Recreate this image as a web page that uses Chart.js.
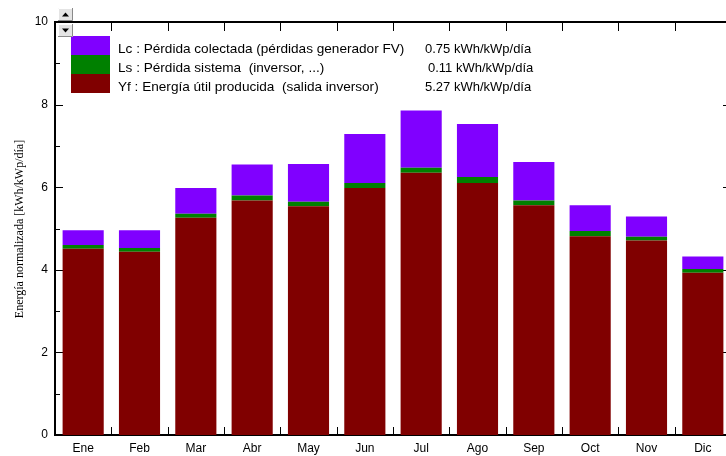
<!DOCTYPE html>
<html>
<head>
<meta charset="utf-8">
<script src="https://cdn.jsdelivr.net/npm/chart.js@4"></script>
<style>
  html, body { margin: 0; padding: 0; overflow: hidden; background: #fff; }
  #wrap { width: 740px; height: 456px; }
</style>
</head>
<body>
<div id="wrap"><canvas id="energyChart" width="740" height="456"></canvas></div>
<script>
const months = ['Ene', 'Feb', 'Mar', 'Abr', 'May', 'Jun', 'Jul', 'Ago', 'Sep', 'Oct', 'Nov', 'Dic']

// kWh/kWp/día por mes
const yfValues = [4.51, 4.44, 5.26, 5.68, 5.54, 5.98, 6.35, 6.10, 5.56, 4.81, 4.71, 3.93]
const lsValues = [0.09, 0.09, 0.10, 0.12, 0.11, 0.12, 0.12, 0.15, 0.12, 0.13, 0.09, 0.09]
const lcValues = [0.36, 0.43, 0.62, 0.75, 0.91, 1.19, 1.39, 1.28, 0.93, 0.62, 0.49, 0.30]

const yfName = 'Yf : Energía útil producida  (salida inversor)'
const lsName = 'Ls : Pérdida sistema  (inversor, ...)'
const lcName = 'Lc : Pérdida colectada (pérdidas generador FV)'
const yearAverages = ['5.27', '0.11', '0.75']   // Yf, Ls, Lc
const unitText = 'kWh/kWp/día'
const yTitle = 'Energía normalizada [kWh/kWp/día]'

const sansFont = '"Liberation Sans", Arial, sans-serif'
const serifFont = '"Liberation Serif", "Times New Roman", serif'

Chart.defaults.font.family = sansFont
Chart.defaults.color = '#000'

// marco con marcas hacia dentro (antes de las barras para que queden encima)
const framePlugin = {
    id: 'frame',
    beforeDatasetsDraw(chart) {
        const {ctx, chartArea: a, scales} = chart
        ctx.save()
        ctx.strokeStyle = '#000'
        ctx.lineWidth = 2
        ctx.strokeRect(a.left, a.top, a.right - a.left, a.bottom - a.top)

        ctx.lineWidth = 1
        ctx.beginPath()
        for (let v = 0; v <= 10; v++) {
            const y = Math.round(scales.y.getPixelForValue(v)) + 0.5
            const len = v % 2 === 0 ? 8 : 5
            ctx.moveTo(a.left, y); ctx.lineTo(a.left + len, y)
            ctx.moveTo(a.right, y); ctx.lineTo(a.right - len, y)
        }
        for (let i = 1; i < months.length; i++) {
            const x = Math.round((scales.x.getPixelForValue(i - 1) + scales.x.getPixelForValue(i)) / 2) + 0.5
            ctx.moveTo(x, a.top); ctx.lineTo(x, a.top + 9)
            ctx.moveTo(x, a.bottom); ctx.lineTo(x, a.bottom - 8)
        }
        ctx.stroke()
        ctx.restore()
    },
    afterDraw(chart) {
        const ctx = chart.ctx
        ctx.save()

        // título del eje Y
        ctx.translate(20, 229)
        ctx.rotate(-Math.PI / 2)
        ctx.font = '12px ' + serifFont
        ctx.fillStyle = '#000'
        ctx.textAlign = 'center'
        ctx.textBaseline = 'middle'
        ctx.fillText(yTitle, 0, 0)
        ctx.setTransform(1, 0, 0, 1, 0, 0)

        // leyenda: de arriba abajo Lc, Ls, Yf
        const rows = chart.data.datasets.slice().reverse()
        const avgs = yearAverages.slice().reverse()
        ctx.textAlign = 'left'
        ctx.textBaseline = 'alphabetic'
        rows.forEach((ds, i) => {
            const top = 36 + i * 19
            ctx.fillStyle = ds.backgroundColor
            ctx.fillRect(71, top, 39, 19)
            ctx.fillStyle = '#000'
            ctx.font = '13.6px ' + sansFont
            ctx.fillText(ds.label, 118, top + 16.5)
            ctx.font = '13px ' + sansFont
            ctx.fillText(avgs[i] + ' ' + unitText, i === 1 ? 428 : 425, top + 16.5)
        })

        // botones de desplazamiento
        drawButton(ctx, 58, 8, 15, 13, true)
        drawButton(ctx, 58, 24, 15, 13, false)
        ctx.restore()
    }
}

function drawButton(ctx, x, y, w, h, up) {
    ctx.fillStyle = '#e4e4e4'
    ctx.fillRect(x, y, w, h)
    ctx.strokeStyle = '#ffffff'
    ctx.lineWidth = 1
    ctx.beginPath()
    ctx.moveTo(x + 0.5, y + h); ctx.lineTo(x + 0.5, y + 0.5); ctx.lineTo(x + w, y + 0.5)
    ctx.stroke()
    ctx.strokeStyle = '#8a8a8a'
    ctx.beginPath()
    ctx.moveTo(x + w - 0.5, y); ctx.lineTo(x + w - 0.5, y + h - 0.5); ctx.lineTo(x, y + h - 0.5)
    ctx.stroke()
    const cx = x + w / 2, cy = y + h / 2
    ctx.fillStyle = '#000'
    ctx.beginPath()
    if (up) {
        ctx.moveTo(cx - 3.5, cy + 2); ctx.lineTo(cx + 3.5, cy + 2); ctx.lineTo(cx, cy - 2)
    } else {
        ctx.moveTo(cx - 3.5, cy - 2); ctx.lineTo(cx + 3.5, cy - 2); ctx.lineTo(cx, cy + 2)
    }
    ctx.fill()
}

let ctx = document.querySelector('#energyChart').getContext('2d')
let energyChart = new Chart(ctx, {
    type: 'bar',
    data: {
        labels: months,
        datasets: [
            {label: yfName, data: yfValues, backgroundColor: '#800000'},
            {label: lsName, data: lsValues, backgroundColor: '#008000'},
            {label: lcName, data: lcValues, backgroundColor: '#8000ff'}
        ]
    },
    options: {
        responsive: false,
        animation: false,
        devicePixelRatio: 1,
        layout: {padding: {top: 22, right: 9, left: 0, bottom: 0}},
        datasets: {bar: {categoryPercentage: 1, barPercentage: 0.73, borderWidth: 0}},
        plugins: {legend: {display: false}, tooltip: {enabled: false}},
        scales: {
            x: {
                stacked: true,
                grid: {display: false, drawTicks: false},
                border: {display: false},
                ticks: {color: '#000', font: {size: 12}, padding: 6, maxRotation: 0},
                afterFit: (s) => { s.height = 21 }
            },
            y: {
                stacked: true,
                min: 0,
                max: 10,
                grid: {display: false, drawTicks: false},
                border: {display: false},
                ticks: {stepSize: 2, color: '#000', font: {size: 12}, padding: 7},
                afterFit: (s) => { s.width = 55 }
            }
        }
    },
    plugins: [framePlugin]
})
</script>
</body>
</html>
